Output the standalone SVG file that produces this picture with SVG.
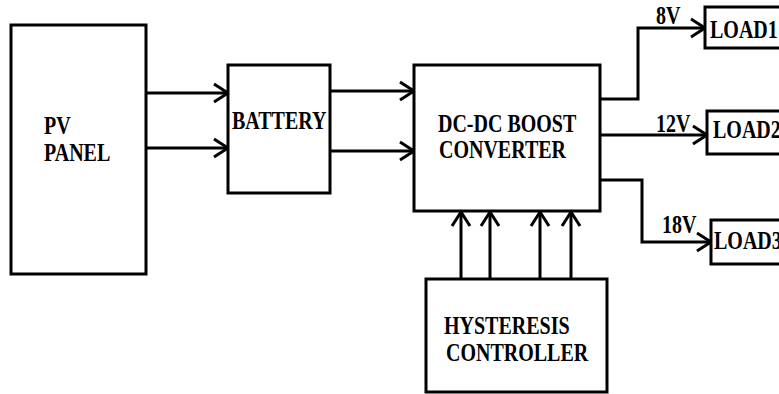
<svg xmlns="http://www.w3.org/2000/svg" width="779" height="394" viewBox="0 0 779 394">
<style>
.box{fill:#fff;stroke:#000;stroke-width:3}
.ln{fill:none;stroke:#000;stroke-width:3}
.t{font-family:"Liberation Serif","Times New Roman",serif;font-weight:bold;font-size:20px;fill:#000}
</style>
<defs>
<marker id="ah" markerUnits="userSpaceOnUse" markerWidth="20" markerHeight="24" viewBox="-16 -12 20 24" refX="0" refY="0" orient="auto">
<path d="M-14,-9 L0,0 L-14,9" fill="none" stroke="#000" stroke-width="3"/>
</marker>
</defs>
<rect width="779" height="394" fill="#fff"/>
<g id="connectors">
<line class="ln" x1="145" y1="93" x2="228" y2="93" marker-end="url(#ah)"/>
<line class="ln" x1="145" y1="148" x2="228" y2="148" marker-end="url(#ah)"/>
<line class="ln" x1="331" y1="91" x2="414" y2="91" marker-end="url(#ah)"/>
<line class="ln" x1="331" y1="151" x2="414" y2="151" marker-end="url(#ah)"/>
<polyline class="ln" points="600,99 638,99 638,28 705,28" marker-end="url(#ah)"/>
<line class="ln" x1="600" y1="135" x2="707" y2="135" marker-end="url(#ah)"/>
<polyline class="ln" points="600,180 642,180 642,242 711,242" marker-end="url(#ah)"/>
<line class="ln" x1="461" y1="279" x2="461" y2="212" marker-end="url(#ah)"/>
<line class="ln" x1="490" y1="279" x2="490" y2="212" marker-end="url(#ah)"/>
<line class="ln" x1="540" y1="279" x2="540" y2="212" marker-end="url(#ah)"/>
<line class="ln" x1="571" y1="279" x2="571" y2="212" marker-end="url(#ah)"/>
<text class="t" transform="translate(656,24) scale(1,1.22)">8V</text>
<text class="t" transform="translate(656,132) scale(1,1.22)">12V</text>
<text class="t" transform="translate(662,233) scale(1,1.22)">18V</text>
</g>
<g id="pv">
<rect class="box" x="11" y="25" width="135" height="249"/>
<text class="t" transform="translate(44,134) scale(1,1.22)">PV</text>
<text class="t" transform="translate(44,161) scale(1,1.22)">PANEL</text>
</g>
<g id="battery">
<rect class="box" x="228" y="65" width="102" height="128"/>
<text class="t" transform="translate(232,129) scale(1,1.22)">BATTERY</text>
</g>
<g id="boost">
<rect class="box" x="414" y="65" width="186" height="146"/>
<text class="t" transform="translate(438,132) scale(1,1.22)">DC-DC BOOST</text>
<text class="t" transform="translate(439,158) scale(1,1.22)">CONVERTER</text>
</g>
<g id="controller">
<rect class="box" x="426" y="279" width="181" height="113"/>
<text class="t" transform="translate(444,334) scale(1,1.22)">HYSTERESIS</text>
<text class="t" transform="translate(446,361) scale(1,1.22)">CONTROLLER</text>
</g>
<g id="load1">
<rect class="box" x="705" y="7" width="90" height="41"/>
<text class="t" transform="translate(710,38) scale(1,1.22)">LOAD1</text>
</g>
<g id="load2">
<rect class="box" x="707" y="111" width="90" height="43"/>
<text class="t" transform="translate(713,138) scale(1,1.22)">LOAD2</text>
</g>
<g id="load3">
<rect class="box" x="711" y="220" width="90" height="44"/>
<text class="t" transform="translate(714,249) scale(1,1.22)">LOAD3</text>
</g>
</svg>
